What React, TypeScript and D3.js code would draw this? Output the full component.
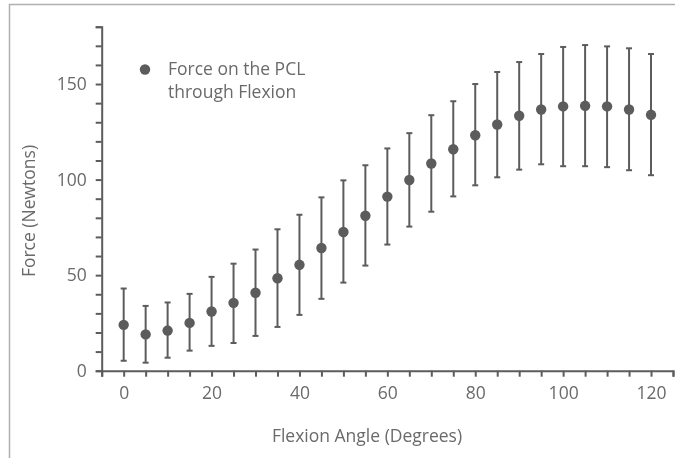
import { useRef, useEffect } from 'react'
import * as d3 from 'd3'

// Flexion angle (degrees)
const angles = [0, 5, 10, 15, 20, 25, 30, 35, 40, 45, 50, 55, 60, 65, 70, 75, 80, 85, 90, 95, 100, 105, 110, 115, 120]
// mean force on the PCL (N)
const meanForce = [24, 19, 21, 25, 31, 35.5, 40.8, 48.4, 55.4, 64.2, 72.6, 81.1, 91.1, 99.8, 108.4, 115.9, 123.2, 128.8, 133.4, 136.7, 138.3, 138.6, 138.3, 136.7, 133.9]
const upperForce = [43, 33.9, 35.7, 40.2, 49.1, 56, 63.4, 74, 81.6, 90.7, 99.6, 107.5, 116.3, 124.3, 133.7, 141, 150, 156.3, 161.5, 165.7, 169.4, 170.4, 169.7, 168.7, 165.7]
const lowerForce = [5.2, 4.2, 6.8, 10.5, 13, 14.5, 18.2, 22.9, 29.2, 37.6, 46.1, 55, 66, 75.4, 83.2, 91.2, 97, 101.2, 105.2, 108, 107, 107, 106.5, 104.9, 102.3]

const xTicks = d3.range(-5, 126, 5)
const yTicks = d3.range(0, 181, 10)

const legendLines = ['Force on the PCL', 'through Flexion']
const xTitle = 'Flexion Angle (Degrees)'
const yTitle = 'Force (Newtons)'

const App = () => {
	const svgRef = useRef<SVGSVGElement | null>(null)

	useEffect(() => {
		if (!svgRef.current) return

		const width = 675
		const height = 458
		const margin = { top: 26.7, right: 2, bottom: 87.3, left: 101.7 }
		const ink = '#5c5c5c'
		const textColor = '#6a6a6a'
		const font = '"Open Sans", sans-serif'
		const fontSize = '17.5px'

		const rows = angles.map((a, i) => ({
			angle: a,
			mean: meanForce[i],
			hi: upperForce[i],
			lo: lowerForce[i],
		}))

		const svg = d3.select(svgRef.current)
		svg.selectAll('*').remove()
		svg.attr('width', width).attr('height', height)

		// frame (cropped on the right and bottom)
		svg
			.append('rect')
			.attr('x', 9.5)
			.attr('y', 4.5)
			.attr('width', width + 20)
			.attr('height', height + 20)
			.attr('fill', 'none')
			.attr('stroke', '#b0b0b0')
			.attr('stroke-width', 1.5)

		const x = d3
			.scaleLinear()
			.domain([-5, 125])
			.range([margin.left, width - margin.right])

		const y = d3
			.scaleLinear()
			.domain([0, 180])
			.range([height - margin.bottom, margin.top])

		// X Axis
		const gx = svg
			.append('g')
			.attr('transform', `translate(0,${height - margin.bottom})`)
			.call(
				d3
					.axisBottom(x)
					.tickValues(xTicks)
					.tickSize(6)
					.tickPadding(10)
					.tickFormat((d) => (+d >= 0 && +d % 20 === 0 ? String(d) : ''))
			)

		// Y Axis
		const gy = svg
			.append('g')
			.attr('transform', `translate(${margin.left},0)`)
			.call(
				d3
					.axisLeft(y)
					.tickValues(yTicks)
					.tickSize(6)
					.tickPadding(9)
					.tickFormat((d) => (+d % 50 === 0 ? String(d) : ''))
			)

		for (const g of [gx, gy]) {
			g.select('.domain').attr('stroke', ink).attr('stroke-width', 2)
			g.selectAll('.tick line').attr('stroke', ink).attr('stroke-width', 2)
			g.selectAll('.tick text')
				.attr('fill', textColor)
				.style('font-family', font)
				.style('font-size', fontSize)
		}

		// error bars
		const bars = svg.append('g').attr('stroke', ink).attr('stroke-width', 2)
		bars
			.selectAll('line.whisker')
			.data(rows)
			.enter()
			.append('line')
			.attr('class', 'whisker')
			.attr('x1', (d) => x(d.angle))
			.attr('x2', (d) => x(d.angle))
			.attr('y1', (d) => y(d.hi))
			.attr('y2', (d) => y(d.lo))

		for (const key of ['hi', 'lo'] as const) {
			bars
				.selectAll(`line.cap-${key}`)
				.data(rows)
				.enter()
				.append('line')
				.attr('class', `cap-${key}`)
				.attr('x1', (d) => x(d.angle) - 3)
				.attr('x2', (d) => x(d.angle) + 3)
				.attr('y1', (d) => y(d[key]))
				.attr('y2', (d) => y(d[key]))
		}

		// points
		svg
			.append('g')
			.selectAll('circle')
			.data(rows)
			.enter()
			.append('circle')
			.attr('cx', (d) => x(d.angle))
			.attr('cy', (d) => y(d.mean))
			.attr('r', 5.2)
			.attr('fill', ink)

		// legend
		svg
			.append('circle')
			.attr('cx', 145)
			.attr('cy', 69.5)
			.attr('r', 5.2)
			.attr('fill', ink)
		svg
			.append('text')
			.attr('x', 168)
			.attr('y', 74.5)
			.attr('fill', textColor)
			.style('font-family', font)
			.style('font-size', fontSize)
			.selectAll('tspan')
			.data(legendLines)
			.enter()
			.append('tspan')
			.attr('x', 168)
			.attr('dy', (_, i) => (i === 0 ? 0 : 23.4))
			.text((d) => d)

		// axis titles
		svg
			.append('text')
			.attr('x', 367)
			.attr('y', 442)
			.attr('text-anchor', 'middle')
			.attr('fill', textColor)
			.style('font-family', font)
			.style('font-size', fontSize)
			.text(xTitle)

		svg
			.append('text')
			.attr('transform', `translate(35,211) rotate(-90)`)
			.attr('text-anchor', 'middle')
			.attr('fill', textColor)
			.style('font-family', font)
			.style('font-size', fontSize)
			.text(yTitle)
	}, [])

	return (
		<div style={{ position: 'fixed', top: 0, left: 0 }}>
			<svg ref={svgRef} style={{ display: 'block' }}></svg>
		</div>
	)
}

export default App
